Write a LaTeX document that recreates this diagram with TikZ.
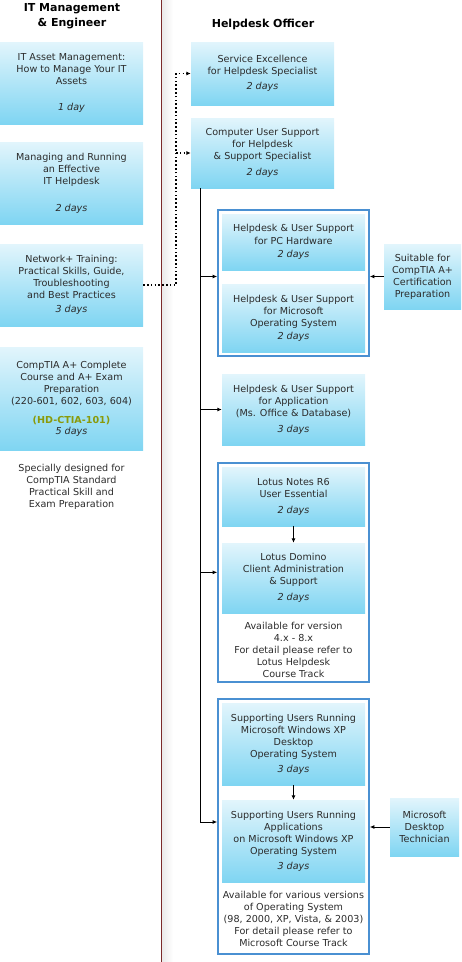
\documentclass[tikz,border=0pt]{standalone}
\usepackage{fontspec}
\setmainfont{DejaVu Sans}
\usepackage{tikz}
\usetikzlibrary{arrows.meta,positioning,calc,fit}
\definecolor{hdTop}{HTML}{E2F5FC}
\definecolor{hdBottom}{HTML}{7FD5F2}
\definecolor{hdFrame}{HTML}{4A90D2}
\definecolor{hdText}{HTML}{2B2B2B}
\definecolor{hdDivider}{HTML}{7B2B2B}
\definecolor{hdCode}{HTML}{8A9A0A}
\tikzset{
    hdBoxBase/.style={
        rectangle,
        top color=hdTop,
        bottom color=hdBottom,
        draw=none,
        text=hdText,
        font=\fontsize{9.6}{12}\selectfont,
        align=center,
        inner sep=0pt
    },
    % Course boxes
    course/.style={hdBoxBase, minimum width=143pt},
    hint/.style={hdBoxBase, minimum width=77pt},
    % Plain text
    note/.style={text=hdText, font=\fontsize{9.6}{12}\selectfont, align=center, inner sep=0pt},
    colTitle/.style={font=\bfseries\fontsize{11}{15}\selectfont, align=center, inner sep=0pt},
    % Group frame
    group/.style={draw=hdFrame, line width=2pt, inner sep=3.6pt},
    % Arrows
    hdArrowBase/.style={->, >={Latex[length=4.5pt,width=4pt]}, line width=0.9pt, draw=black},
    hdDotted/.style={hdArrowBase, line width=1.6pt, dash pattern=on 1.6pt off 2.2pt}
}
\newcommand{\days}[1]{\textit{#1}}

\begin{document}
\begin{tikzpicture}[x=1pt, y=-1pt]
\useasboundingbox (0,0) rectangle (461,962);

% column divider
\fill[left color=black!8, right color=white] (162,0) rectangle (173,962);
\draw[hdDivider, line width=1.4pt] (161.3,0) -- (161.3,962);

\node[colTitle] (itHead) at (72,16) {IT Management\\\& Engineer};
\node[colTitle] (hdHead) at (263,24) {Helpdesk Officer};

% IT management column
\node[course, minimum height=82pt] (itam) at (71.5,83) {IT Asset Management:\\How to Manage Your IT\\Assets\\[14pt]\days{1 day}};
\node[course, minimum height=82pt] (mrh) at (71.5,183) {Managing and Running\\an Effective\\IT Helpdesk\\[15pt]\days{2 days}};
\node[course, minimum height=82pt] (net) at (71.5,285) {Network+ Training:\\Practical Skills, Guide,\\Troubleshooting\\and Best Practices\\[2pt]\days{3 days}};
\node[course, minimum height=103pt] (cta) at (71.5,398.5) {CompTIA A+ Complete\\Course and A+ Exam\\Preparation\\(220-601, 602, 603, 604)\\[7pt]\textcolor{hdCode}{\bfseries (HD-CTIA-101)}\\[-1pt]\days{5 days}};
\node[note] (ctaNote) at (71.5,486.5) {Specially designed for\\CompTIA Standard\\Practical Skill and\\Exam Preparation};

% Helpdesk officer column
\node[course, minimum height=63pt] (svc) at (262.5,73.5) {Service Excellence\\for Helpdesk Specialist\\[3pt]\days{2 days}};
\node[course, minimum height=70pt] (cus) at (262.5,153) {Computer User Support\\for Helpdesk\\\& Support Specialist\\[4pt]\days{2 days}};

\node[course, minimum height=56pt] (pcHw) at (293.5,242) {Helpdesk \& User Support\\[1pt]for PC Hardware\\[1pt]\days{2 days}};
\node[course, minimum height=68pt] (msOs) at (293.5,318) {Helpdesk \& User Support\\for Microsoft\\Operating System\\[1pt]\days{2 days}};
\node[group, fit=(pcHw)(msOs)] (grpPc) {};
\node[hint, minimum height=65pt] (sut) at (422.5,276.5) {Suitable for\\CompTIA A+\\Certification\\Preparation};

\node[course, minimum height=71pt] (app) at (293.5,409.5) {Helpdesk \& User Support\\for Application\\(Ms. Office \& Database)\\[4pt]\days{3 days}};

\node[course, minimum height=59pt] (lnr) at (293.5,496.5) {Lotus Notes R6\\User Essential\\[4pt]\days{2 days}};
\node[course, minimum height=70pt] (ldom) at (293.5,578) {Lotus Domino\\Client Administration\\\& Support\\[4pt]\days{2 days}};
\node[note] (lotusNote) at (293.5,650) {Available for version\\4.x - 8.x\\For detail please refer to\\Lotus Helpdesk\\Course Track};
\node[group, fit=(lnr)(ldom)(lotusNote)] (grpLotus) {};

\node[course, minimum height=82pt] (xpDesk) at (293.5,744) {Supporting Users Running\\Microsoft Windows XP\\Desktop\\Operating System\\[3pt]\days{3 days}};
\node[course, minimum height=82pt] (xpApps) at (293.5,841) {Supporting Users Running\\Applications\\on Microsoft Windows XP\\Operating System\\[3pt]\days{3 days}};
\node[note] (msNote) at (293.5,918.5) {Available for various versions\\of Operating System\\(98, 2000, XP, Vista, \& 2003)\\For detail please refer to\\Microsoft Course Track};
\node[group, fit=(xpDesk)(xpApps)(msNote), inner ysep=6pt, yshift=-2pt] (grpMs) {};
\node[hint, minimum width=69pt, minimum height=58pt] (mdt) at (424.5,827) {Microsoft\\Desktop\\Technician};

% connectors
\coordinate (dotX) at (176,0);
\coordinate (trunkX) at (200.7,0);
\coordinate (trunkEnd) at (0,822);
\draw[hdDotted] (net.east) -- (net.east -| dotX) |- (svc.west);
\draw[hdDotted] (cus.west -| dotX) -- (cus.west);

\draw[hdArrowBase] (cus.south -| trunkX) |- (grpMs.west |- trunkEnd);
\draw[hdArrowBase] (trunkX |- sut.west) -- (grpPc.west |- sut.west);
\draw[hdArrowBase] (trunkX |- app.west) -- (app.west);
\draw[hdArrowBase] (trunkX |- grpLotus.west) -- (grpLotus.west);
\draw[hdArrowBase] (sut.west) -- (grpPc.east |- sut.west);
\draw[hdArrowBase] (mdt.west) -- (grpMs.east |- mdt.west);
\draw[hdArrowBase] (lnr.south) -- (ldom.north);
\draw[hdArrowBase] (xpDesk.south) -- (xpApps.north);
\end{tikzpicture}
\end{document}
